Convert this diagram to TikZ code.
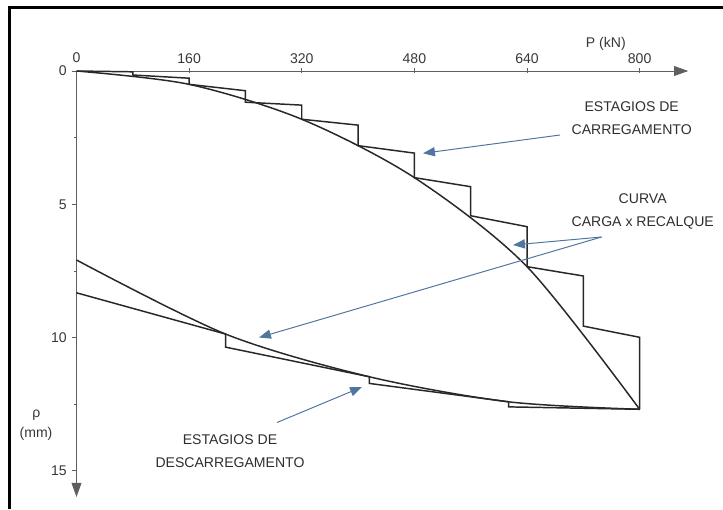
\documentclass[tikz,border=0pt]{standalone}
\usepackage{fontspec}
\setmainfont{Liberation Sans}
\usepackage{tikz}
\usetikzlibrary{arrows.meta}
\usetikzlibrary{positioning}

\definecolor{axisgray}{RGB}{95,95,95}
\definecolor{curvegray}{RGB}{40,40,40}
\definecolor{pointerblue}{RGB}{78,118,158}

\tikzset{
  axisline/.style={draw=axisgray, line width=0.6pt},
  axisarrow/.style={-{Triangle[length=10pt,width=7pt]}},
  curveline/.style={draw=curvegray, line width=1.05pt, line join=miter},
  pointer/.style={draw=pointerblue, line width=0.7pt, -{Triangle[length=8.5pt,width=6.5pt]}},
  lbl/.style={font=\fontsize{10}{16.4}\selectfont, align=center, inner sep=0pt, text=black!82},
  ticklbl/.style={font=\fontsize{10}{12}\selectfont, inner sep=0pt, text=black!78},
}

\begin{document}
\begin{tikzpicture}[x=0.025cm, y=-0.025cm]
  \useasboundingbox (0,0) rectangle (723,509);
  \draw[line width=2.2pt] (9.5,509) -- (9.5,7.5) -- (723,7.5);

  % axes and curves in kN / mm
  \begin{scope}[shift={(76.5,71)}, x=0.0175875cm, y=-0.66625cm]
    \draw[axisline, axisarrow] (0,0) -- (869,0);
    \draw[axisline, axisarrow] (0,0) -- (0,15.98);
    \foreach \p in {160,320,480,640,800} {
      \draw[axisline] (\p,-0.12) -- (\p,0.08);
      \node[ticklbl] (xt\p) at (\p,-0.45) {\p};
    }
    \node[ticklbl] (xt0) at (0,-0.5) {0};
    \foreach \r in {0,5,10,15} {
      \draw[axisline] (-7,\r) -- (0,\r);
      \node[ticklbl, anchor=east] (yt\r) at (-13.5,\r) {\r};
    }
    \foreach \r in {2.5,7.5,12.5}
      \draw[axisline] (-4,\r) -- (0,\r);
    \node[ticklbl] (plabel) at (752,-1.01) {P (kN)};
    \node[ticklbl] (rholabel) at (-57,12.9) {ρ};
    \node[ticklbl] (mmlabel) at (-57.5,13.6) {(mm)};

    % carregamento
    \draw[curveline] (0,0) -- (80,0.03) -- (80,0.15) -- (160,0.27) -- (160,0.5)
      -- (240,0.74) -- (240,1.17) -- (320,1.28) -- (320,1.81) -- (400,2.03)
      -- (400,2.8) -- (480,3.08) -- (480,4.0) -- (560,4.34) -- (560,5.43)
      -- (640,5.84) -- (640,7.34) -- (720,7.69) -- (720,9.57) -- (800,9.99)
      -- (800,12.69);
    \draw[curveline] plot[smooth] coordinates {(0,0) (160,0.5) (320,1.81) (480,4.0) (640,7.34) (800,12.69)};

    % descarregamento
    \draw[curveline] plot[smooth] coordinates {(800,12.69) (614,12.41) (416,11.47) (212,9.87) (0,7.09)};
    \draw[curveline] (800,12.69) -- (614,12.6) -- (614,12.41) -- (416,11.72)
      -- (416,11.47) -- (212,10.36) -- (212,9.87) -- (0,8.32);
  \end{scope}

  \node[lbl] (carreg) at (631.7,118.5) {ESTAGIOS DE\\CARREGAMENTO};
  \node[lbl] (curva) at (642.7,211.5) {CURVA\\CARGA x RECALQUE};
  \node[lbl] (descarreg) at (230,451) {ESTAGIOS DE\\DESCARREGAMENTO};

  \coordinate (carregfrom) at (560,135);
  \coordinate (carregtip) at (423,153.3);
  \coordinate (curvafrom) at (601.5,237);
  \coordinate (curvatipa) at (513,245);
  \coordinate (curvatipb) at (259,337.5);
  \coordinate (descfrom) at (277,422.5);
  \coordinate (desctip) at (362,387);

  \draw[pointer] (carregfrom) -- (carregtip);
  \draw[pointer] (curvafrom) -- (curvatipa);
  \draw[pointer] (curvafrom) -- (curvatipb);
  \draw[pointer] (descfrom) -- (desctip);
\end{tikzpicture}
\end{document}
